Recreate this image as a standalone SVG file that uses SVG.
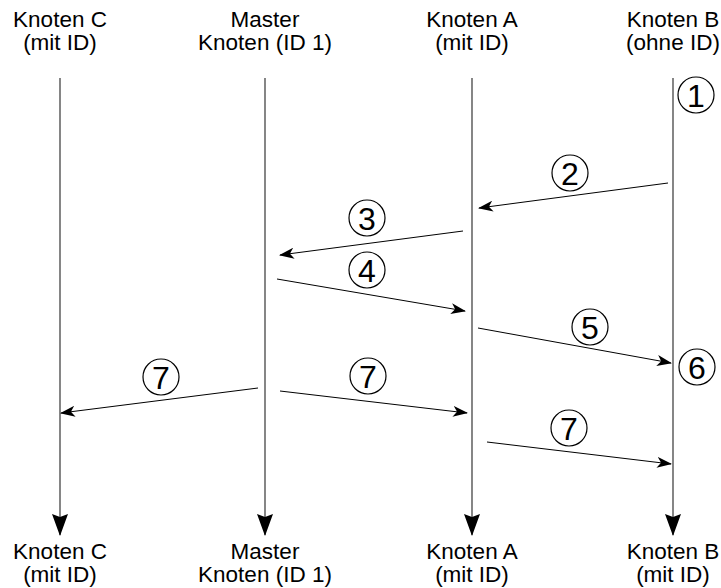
<svg xmlns="http://www.w3.org/2000/svg" width="721" height="588" viewBox="0 0 721 588">
<style>
text{font-family:"Liberation Sans",Arial,sans-serif;fill:#000}
.lbl{font-size:22.5px;text-anchor:middle}
.num{font-size:32px;text-anchor:middle}
.life{stroke:#444;stroke-width:1.3;fill:none}
.msg{stroke:#000;stroke-width:1;fill:none;marker-end:url(#ah)}
.circ{fill:none;stroke:#000;stroke-width:1.2}
</style>
<defs>
<marker id="ah" markerWidth="15" markerHeight="11" refX="14" refY="5.5" orient="auto" markerUnits="userSpaceOnUse">
<path d="M0,0 L15,5.5 L0,11 L4,5.5 Z" fill="#000"/>
</marker>
<marker id="lh" markerWidth="16" markerHeight="22" refX="8" refY="21" orient="0" markerUnits="userSpaceOnUse">
<path d="M0,0 L8,3 L16,0 L8,22 Z" fill="#000"/>
</marker>
</defs>
<g id="node-c">
<text class="lbl" x="60" y="27">Knoten C</text>
<text class="lbl" x="60" y="50">(mit ID)</text>
<text class="lbl" x="60" y="559">Knoten C</text>
<text class="lbl" x="60" y="582">(mit ID)</text>
</g>
<g id="node-master">
<text class="lbl" x="265" y="27">Master</text>
<text class="lbl" x="265" y="50">Knoten (ID 1)</text>
<text class="lbl" x="265" y="559">Master</text>
<text class="lbl" x="265" y="582">Knoten (ID 1)</text>
</g>
<g id="node-a">
<text class="lbl" x="472" y="27">Knoten A</text>
<text class="lbl" x="472" y="50">(mit ID)</text>
<text class="lbl" x="472" y="559">Knoten A</text>
<text class="lbl" x="472" y="582">(mit ID)</text>
</g>
<g id="node-b">
<text class="lbl" x="673" y="27">Knoten B</text>
<text class="lbl" x="673" y="50">(ohne ID)</text>
<text class="lbl" x="673" y="559">Knoten B</text>
<text class="lbl" x="673" y="582">(mit ID)</text>
</g>
<g id="lifelines">
<line class="life" x1="60" y1="78" x2="60" y2="535" marker-end="url(#lh)"/>
<line class="life" x1="265" y1="78" x2="265" y2="535" marker-end="url(#lh)"/>
<line class="life" x1="472" y1="78" x2="472" y2="535" marker-end="url(#lh)"/>
<line class="life" x1="673" y1="78" x2="673" y2="535" marker-end="url(#lh)"/>
</g>
<g id="connectors">
<line class="msg" x1="668" y1="183" x2="479" y2="208"/>
<line class="msg" x1="463" y1="231" x2="280" y2="255"/>
<line class="msg" x1="277" y1="279" x2="465" y2="311"/>
<line class="msg" x1="478" y1="328" x2="671" y2="363"/>
<line class="msg" x1="258" y1="388" x2="61" y2="413"/>
<line class="msg" x1="280" y1="391" x2="467" y2="413"/>
<line class="msg" x1="487" y1="442" x2="671" y2="464"/>
</g>
<g id="steps">
<circle class="circ" cx="696" cy="95" r="18"/><text class="num" x="696" y="106.5">1</text>
<circle class="circ" cx="570" cy="173" r="18"/><text class="num" x="570" y="184.5">2</text>
<circle class="circ" cx="367" cy="218" r="18"/><text class="num" x="367" y="229.5">3</text>
<circle class="circ" cx="367" cy="270" r="18"/><text class="num" x="367" y="281.5">4</text>
<circle class="circ" cx="590" cy="327" r="18"/><text class="num" x="590" y="338.5">5</text>
<circle class="circ" cx="697" cy="367" r="18"/><text class="num" x="697" y="378.5">6</text>
<circle class="circ" cx="161" cy="377" r="18"/><text class="num" x="161" y="388.5">7</text>
<circle class="circ" cx="368" cy="376" r="18"/><text class="num" x="368" y="387.5">7</text>
<circle class="circ" cx="569" cy="428" r="18"/><text class="num" x="569" y="439.5">7</text>
</g>
</svg>
